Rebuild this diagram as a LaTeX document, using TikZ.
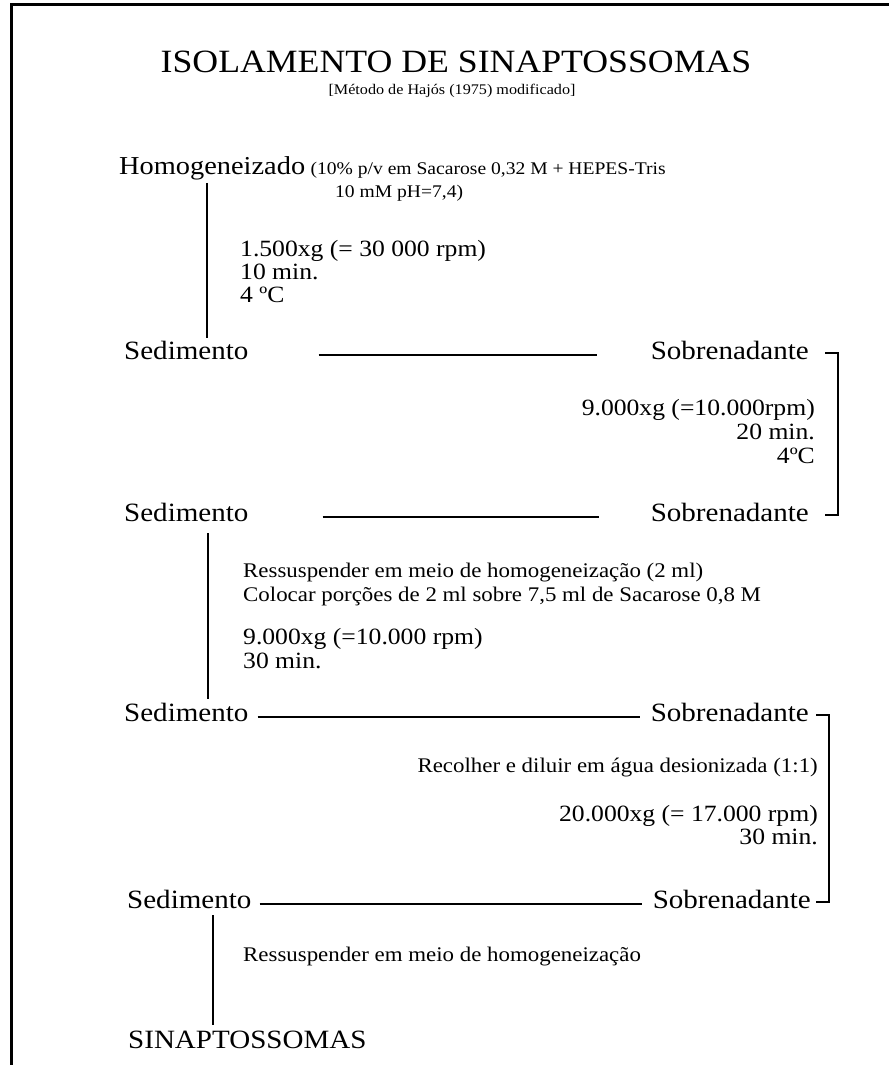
\documentclass[tikz,border=0pt]{standalone}
\usepackage{fontspec}
\setmainfont{Liberation Serif}[FakeStretch=1.1]

\begin{document}
\begin{tikzpicture}[x=1pt,y=-1pt,
  txt/.style={inner sep=0pt},
  big/.style={txt,font=\fontsize{26.4}{30}\selectfont},
  mid/.style={txt,font=\fontsize{23.3}{27}\selectfont},
  sml/.style={txt,font=\fontsize{20.8}{24}\selectfont},
  line/.style={draw,line width=1.8pt}]
\useasboundingbox (0,0) rectangle (889,1065);
\draw[line width=3pt] (11,1065) -- (11,5) -- (889,5);

\node[txt,font=\fontsize{32.5}{36}\selectfont,anchor=base] (title) at (456,72) {ISOLAMENTO DE SINAPTOSSOMAS};
\node[txt,font=\fontsize{14.7}{17}\selectfont,anchor=base] (sub) at (452,94) {[Método de Hajós (1975) modificado]};

\node[txt,font=\fontsize{25.8}{30}\selectfont,anchor=base west] (hom) at (119,174) {Homogeneizado};
\node[txt,font=\fontsize{17.8}{20}\selectfont,anchor=base west] (note1) at ([xshift=5pt]hom.base east) {(10\% p/v em Sacarose 0,32 M + HEPES-Tris};
\node[txt,font=\fontsize{17.8}{20}\selectfont,anchor=base west] (note2) at (335,197) {10 mM pH=7,4)};

\node[mid,anchor=base west] (c1a) at (240,256) {1.500xg (= 30 000 rpm)};
\node[mid,anchor=base west] (c1b) at (240,279) {10 min.};
\node[mid,anchor=base west] (c1c) at (240,302) {4 ºC};

\node[big,anchor=base west] (sed1) at (124,359) {Sedimento};
\node[big,anchor=base east] (sob1) at (809,359) {Sobrenadante};

\node[mid,anchor=base east] (c2a) at (815,415) {9.000xg (=10.000rpm)};
\node[mid,anchor=base east] (c2b) at (815,439) {20 min.};
\node[mid,anchor=base east] (c2c) at (815,463) {4ºC};

\node[big,anchor=base west] (sed2) at (124,521) {Sedimento};
\node[big,anchor=base east] (sob2) at (809,521) {Sobrenadante};

\node[sml,anchor=base west] (r1) at (243,577) {Ressuspender em meio de homogeneização (2 ml)};
\node[sml,anchor=base west] (r2) at (243,601) {Colocar porções de 2 ml sobre 7,5 ml de Sacarose 0,8 M};
\node[mid,anchor=base west] (c3a) at (243,644) {9.000xg (=10.000 rpm)};
\node[mid,anchor=base west] (c3b) at (243,668) {30 min.};

\node[big,anchor=base west] (sed3) at (124,721) {Sedimento};
\node[big,anchor=base east] (sob3) at (809,721) {Sobrenadante};

\node[sml,anchor=base east] (r3) at (818,772) {Recolher e diluir em água desionizada (1:1)};
\node[mid,anchor=base east] (c4a) at (818,821) {20.000xg (= 17.000 rpm)};
\node[mid,anchor=base east] (c4b) at (818,844) {30 min.};

\node[big,anchor=base west] (sed4) at (127,908) {Sedimento};
\node[big,anchor=base east] (sob4) at (811,908) {Sobrenadante};

\node[sml,anchor=base west] (r4) at (243,961) {Ressuspender em meio de homogeneização};
\node[big,anchor=base west] (sin) at (128,1048) {SINAPTOSSOMAS};

% vertical steps
\draw[line,shorten <=3pt,shorten >=2pt] ([xshift=-5pt]hom.south) -- ([xshift=-5pt]hom.south |- sed1.north);
\draw[line,shorten <=12pt,shorten >=3pt] ([xshift=22pt]sed2.south) -- ([xshift=22pt]sed2.south |- sed3.north);
\draw[line,shorten <=7pt,shorten >=5pt] ([xshift=24pt]sed4.south) -- ([xshift=24pt]sed4.south |- sin.north);

% sedimento -- sobrenadante
\draw[line,shorten <=70pt,shorten >=54pt] ([yshift=4pt]sed1.base east) -- ([yshift=4pt]sob1.base west);
\draw[line,shorten <=74pt,shorten >=52pt] ([yshift=4pt]sed2.base east) -- ([yshift=4pt]sob2.base west);
\draw[line,shorten <=9pt,shorten >=11pt] ([yshift=4pt]sed3.base east) -- ([yshift=4pt]sob3.base west);
\draw[line,shorten <=8pt,shorten >=11pt] ([yshift=4pt]sed4.base east) -- ([yshift=4pt]sob4.base west);

% brackets
\draw[line] ([xshift=16pt,yshift=6pt]sob1.base east) -- ++(13,0) |- ([xshift=16pt,yshift=6pt]sob2.base east);
\draw[line] ([xshift=7pt,yshift=6pt]sob3.base east) -- ++(13,0) |- ([xshift=5pt,yshift=6pt]sob4.base east);
\end{tikzpicture}
\end{document}
